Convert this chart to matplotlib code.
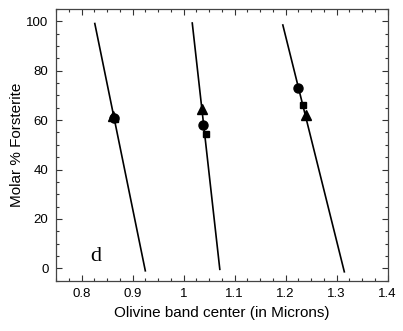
import matplotlib
matplotlib.use("Agg")
import matplotlib.pyplot as plt
from matplotlib.ticker import MultipleLocator, FixedLocator, FixedFormatter

# Fit lines (x at top, y at top, x at bottom, y at bottom)
line1_x = [0.826, 0.925]
line1_y = [99.1, -1.0]
line2_x = [1.017, 1.071]
line2_y = [99.3, -0.4]
line3_x = [1.1945, 1.315]
line3_y = [98.5, -1.4]

# Data points
circle_x = [0.863, 1.039, 1.225]
circle_y = [61.0, 58.1, 72.8]
square_x = [0.865, 1.043, 1.234]
square_y = [60.3, 54.2, 66.3]
triangle_x = [0.862, 1.037, 1.239]
triangle_y = [61.8, 64.4, 62.0]

xticks = [0.8, 0.9, 1.0, 1.1, 1.2, 1.3, 1.4]
xticklabels = ["0.8", "0.9", "1", "1.1", "1.2", "1.3", "1.4"]
yticks = [0, 20, 40, 60, 80, 100]

plt.rcParams['font.family'] = ['Liberation Sans', 'DejaVu Sans']

fig = plt.figure(figsize=(4.03, 3.31), dpi=100)
ax = fig.add_axes([0.139, 0.152, 0.823, 0.821])

for lx, ly in [(line1_x, line1_y), (line2_x, line2_y), (line3_x, line3_y)]:
    ax.plot(lx, ly, color='black', lw=1.2)

ax.plot(triangle_x, triangle_y, '^', color='black', ms=7, ls='none')
ax.plot(square_x, square_y, 's', color='black', ms=5, ls='none')
ax.plot(circle_x, circle_y, 'o', color='black', ms=6.5, ls='none')

ax.text(0.828, 4.7, 'd', family='Liberation Serif', fontsize=16, ha='center', va='center')

ax.set_xlim(0.75, 1.4)
ax.set_ylim(-5, 105)
ax.xaxis.set_major_locator(FixedLocator(xticks))
ax.xaxis.set_major_formatter(FixedFormatter(xticklabels))
ax.xaxis.set_minor_locator(MultipleLocator(0.025))
ax.yaxis.set_major_locator(FixedLocator(yticks))
ax.yaxis.set_minor_locator(MultipleLocator(5))

ax.tick_params(which='both', direction='in', top=True, right=True, colors='#333333', labelcolor='black', labelsize=9.5)
ax.tick_params(which='major', length=4, width=0.8, pad=5.5)
ax.tick_params(which='minor', length=2, width=0.8)
for s in ax.spines.values():
    s.set_color('#444444')
    s.set_linewidth(0.9)

ax.set_xlabel('Olivine band center (in Microns)', fontsize=11, labelpad=4)
ax.set_ylabel('Molar % Forsterite', fontsize=11, labelpad=1.5)

fig.savefig('out.png', dpi=100)
